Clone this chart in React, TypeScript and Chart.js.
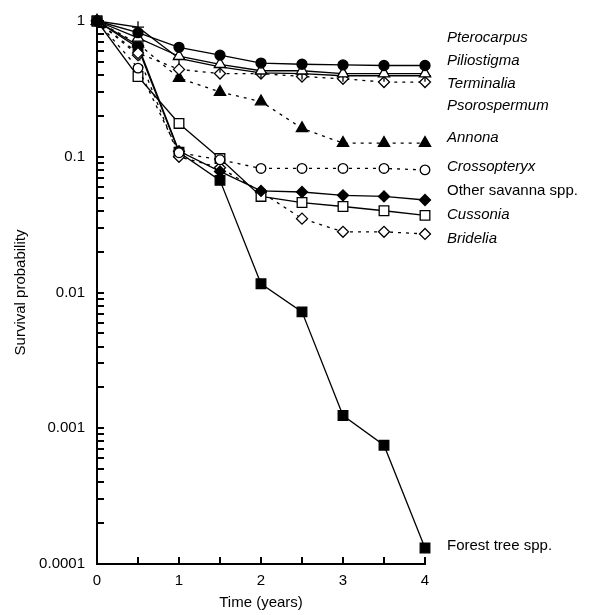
import React, { useEffect, useRef } from 'react';
import { Chart, registerables } from 'chart.js';

Chart.register(...registerables);

// ---- Data ----
const TIMES = [0, 0.5, 1, 1.5, 2, 2.5, 3, 3.5, 4];
const X_TICKS = [0, 0.5, 1, 1.5, 2, 2.5, 3, 3.5, 4];
const X_TICK_LABELS = ['0', '1', '2', '3', '4'];
const Y_MAJOR_TICKS = [0.0001, 0.001, 0.01, 0.1, 1];
const Y_TICK_LABELS = ['0.0001', '0.001', '0.01', '0.1', '1'];

const pterocarpus = [1, 0.82, 0.64, 0.56, 0.49, 0.48, 0.475, 0.47, 0.47];
const piliostigma = [1, 0.75, 0.55, 0.48, 0.43, 0.43, 0.41, 0.41, 0.41];
const terminalia = [1, 0.9, 0.53, 0.46, 0.415, 0.41, 0.395, 0.395, 0.395];
const psorospermum = [1, 0.58, 0.44, 0.41, 0.41, 0.39, 0.375, 0.355, 0.355];
const annona = [1, 0.68, 0.38, 0.3, 0.255, 0.162, 0.126, 0.126, 0.126];
const crossopteryx = [1, 0.45, 0.107, 0.095, 0.082, 0.082, 0.082, 0.082, 0.08];
const otherSavanna = [1, 0.66, 0.11, 0.078, 0.056, 0.055, 0.052, 0.051, 0.048];
const cussonia = [1, 0.39, 0.176, 0.097, 0.051, 0.046, 0.043, 0.04, 0.037];
const bridelia = [1, 0.56, 0.1, 0.083, 0.055, 0.035, 0.028, 0.028, 0.027];
const forestTrees = [1, 0.635, 0.108, 0.067, 0.0116, 0.0072, 0.00124, 0.00075, 0.000131];

const SERIES_NAMES = [
  'Pterocarpus',
  'Piliostigma',
  'Terminalia',
  'Psorospermum',
  'Annona',
  'Crossopteryx',
  'Other savanna spp.',
  'Cussonia',
  'Bridelia',
  'Forest tree spp.',
];

// ---- Styles / layout ----
const FONT = '"Liberation Sans", Arial, Helvetica, sans-serif';
const DOT = [3, 5];
const seriesStyles = [
  { values: pterocarpus, style: 'circle', r: 5, fill: '#000', dash: [] },
  { values: piliostigma, style: 'triangle', r: 6.5, fill: '#fff', dash: [] },
  { values: terminalia, style: 'cross', r: 6, fill: '#000', dash: [] },
  { values: psorospermum, style: 'rectRot', r: 5.5, fill: '#fff', dash: DOT },
  { values: annona, style: 'triangle', r: 6.5, fill: '#000', dash: DOT },
  { values: crossopteryx, style: 'circle', r: 4.8, fill: '#fff', dash: DOT },
  { values: otherSavanna, style: 'rectRot', r: 5.5, fill: '#000', dash: [] },
  { values: cussonia, style: 'rect', r: 6.8, fill: '#fff', dash: [] },
  { values: bridelia, style: 'rectRot', r: 5.5, fill: '#fff', dash: DOT },
  { values: forestTrees, style: 'rect', r: 6.8, fill: '#000', dash: [] },
];
const LABEL_X = 447;
const LABEL_Y = [38, 61, 84, 106, 138, 167, 191, 215, 239, 546];
const LABEL_ITALIC = [true, true, true, true, true, true, false, true, true, false];

const yTickValues: number[] = [];
for (let i = 0; i < Y_MAJOR_TICKS.length - 1; i++) {
  for (let k = 1; k <= 9; k++) yTickValues.push(+(Y_MAJOR_TICKS[i] * k).toPrecision(6));
}
yTickValues.push(Y_MAJOR_TICKS[Y_MAJOR_TICKS.length - 1]);

const inwardTicks = {
  id: 'inwardTicks',
  beforeDatasetsDraw(chart: any) {
    const { ctx, chartArea, scales } = chart;
    const x = scales.x;
    const y = scales.y;
    ctx.save();
    ctx.strokeStyle = '#000';
    ctx.lineWidth = 2;
    y.ticks.forEach((t: any) => {
      const py = Math.round(y.getPixelForValue(t.value));
      ctx.beginPath();
      ctx.moveTo(chartArea.left, py);
      ctx.lineTo(chartArea.left + 7, py);
      ctx.stroke();
    });
    x.ticks.forEach((t: any) => {
      const px = Math.round(x.getPixelForValue(t.value));
      ctx.beginPath();
      ctx.moveTo(px, chartArea.bottom);
      ctx.lineTo(px, chartArea.bottom - 7);
      ctx.stroke();
    });
    ctx.restore();
  },
};

const seriesLabels = {
  id: 'seriesLabels',
  afterDraw(chart: any) {
    const { ctx } = chart;
    ctx.save();
    ctx.fillStyle = '#000';
    ctx.textBaseline = 'middle';
    ctx.textAlign = 'left';
    SERIES_NAMES.forEach((name, i) => {
      ctx.font = `${LABEL_ITALIC[i] ? 'italic ' : ''}15px ${FONT}`;
      ctx.fillText(name, LABEL_X, LABEL_Y[i]);
    });
    ctx.restore();
  },
};

export default function App() {
  const canvasRef = useRef<HTMLCanvasElement | null>(null);

  useEffect(() => {
    if (!canvasRef.current) return;
    const datasets = seriesStyles.map((s, i) => ({
      label: SERIES_NAMES[i],
      data: TIMES.map((t, j) => ({ x: t, y: s.values[j] })),
      borderColor: '#000',
      borderWidth: 1.3,
      borderDash: s.dash,
      pointStyle: s.style,
      pointRadius: s.r,
      pointBackgroundColor: s.fill,
      pointBorderColor: '#000',
      pointBorderWidth: 1.3,
      fill: false,
      tension: 0,
      clip: false,
    }));

    const chart = new Chart(canvasRef.current, {
      type: 'line',
      data: { datasets } as any,
      plugins: [inwardTicks, seriesLabels],
      options: {
        animation: false,
        responsive: false,
        events: [],
        layout: { padding: { top: 19, right: 168, left: 0, bottom: 0 } },
        font: { family: FONT, size: 15 },
        plugins: {
          legend: { display: false },
          tooltip: { enabled: false },
        },
        scales: {
          x: {
            type: 'linear',
            min: 0,
            max: 4,
            grid: { display: false, drawTicks: false },
            border: { display: true, color: '#000', width: 2 },
            afterBuildTicks: (scale: any) => {
              scale.ticks = X_TICKS.map((v) => ({ value: v }));
            },
            afterFit: (scale: any) => {
              scale.height = 51;
            },
            ticks: {
              autoSkip: false,
              maxRotation: 0,
              padding: 8,
              color: '#000',
              font: { family: FONT, size: 15 },
              callback: (value: any) => {
                const idx = [0, 1, 2, 3, 4].indexOf(Number(value));
                return idx >= 0 ? X_TICK_LABELS[idx] : '';
              },
            },
            title: {
              display: true,
              text: 'Time (years)',
              color: '#000',
              font: { family: FONT, size: 15 },
              padding: { top: 0, bottom: 3 },
            },
          },
          y: {
            type: 'logarithmic',
            min: 0.0001,
            max: 1,
            grid: { display: false, drawTicks: false },
            border: { display: true, color: '#000', width: 2 },
            afterBuildTicks: (scale: any) => {
              scale.ticks = yTickValues.map((v) => ({ value: v }));
            },
            afterFit: (scale: any) => {
              scale.width = 97;
            },
            ticks: {
              autoSkip: false,
              padding: 12,
              color: '#000',
              font: { family: FONT, size: 15 },
              callback: (value: any) => {
                const v = Number(value);
                const idx = Y_MAJOR_TICKS.findIndex((m) => Math.abs(m - v) / m < 1e-6);
                return idx >= 0 ? Y_TICK_LABELS[idx] : '';
              },
            },
            title: {
              display: true,
              text: 'Survival probability',
              color: '#000',
              font: { family: FONT, size: 15 },
              padding: { top: 12, bottom: 0 },
            },
          },
        },
      } as any,
    });
    return () => chart.destroy();
  }, []);

  return (
    <div style={{ position: 'fixed', left: 0, top: 0, width: 593, height: 615, background: '#fff' }}>
      <canvas ref={canvasRef} width={593} height={615} />
    </div>
  );
}
